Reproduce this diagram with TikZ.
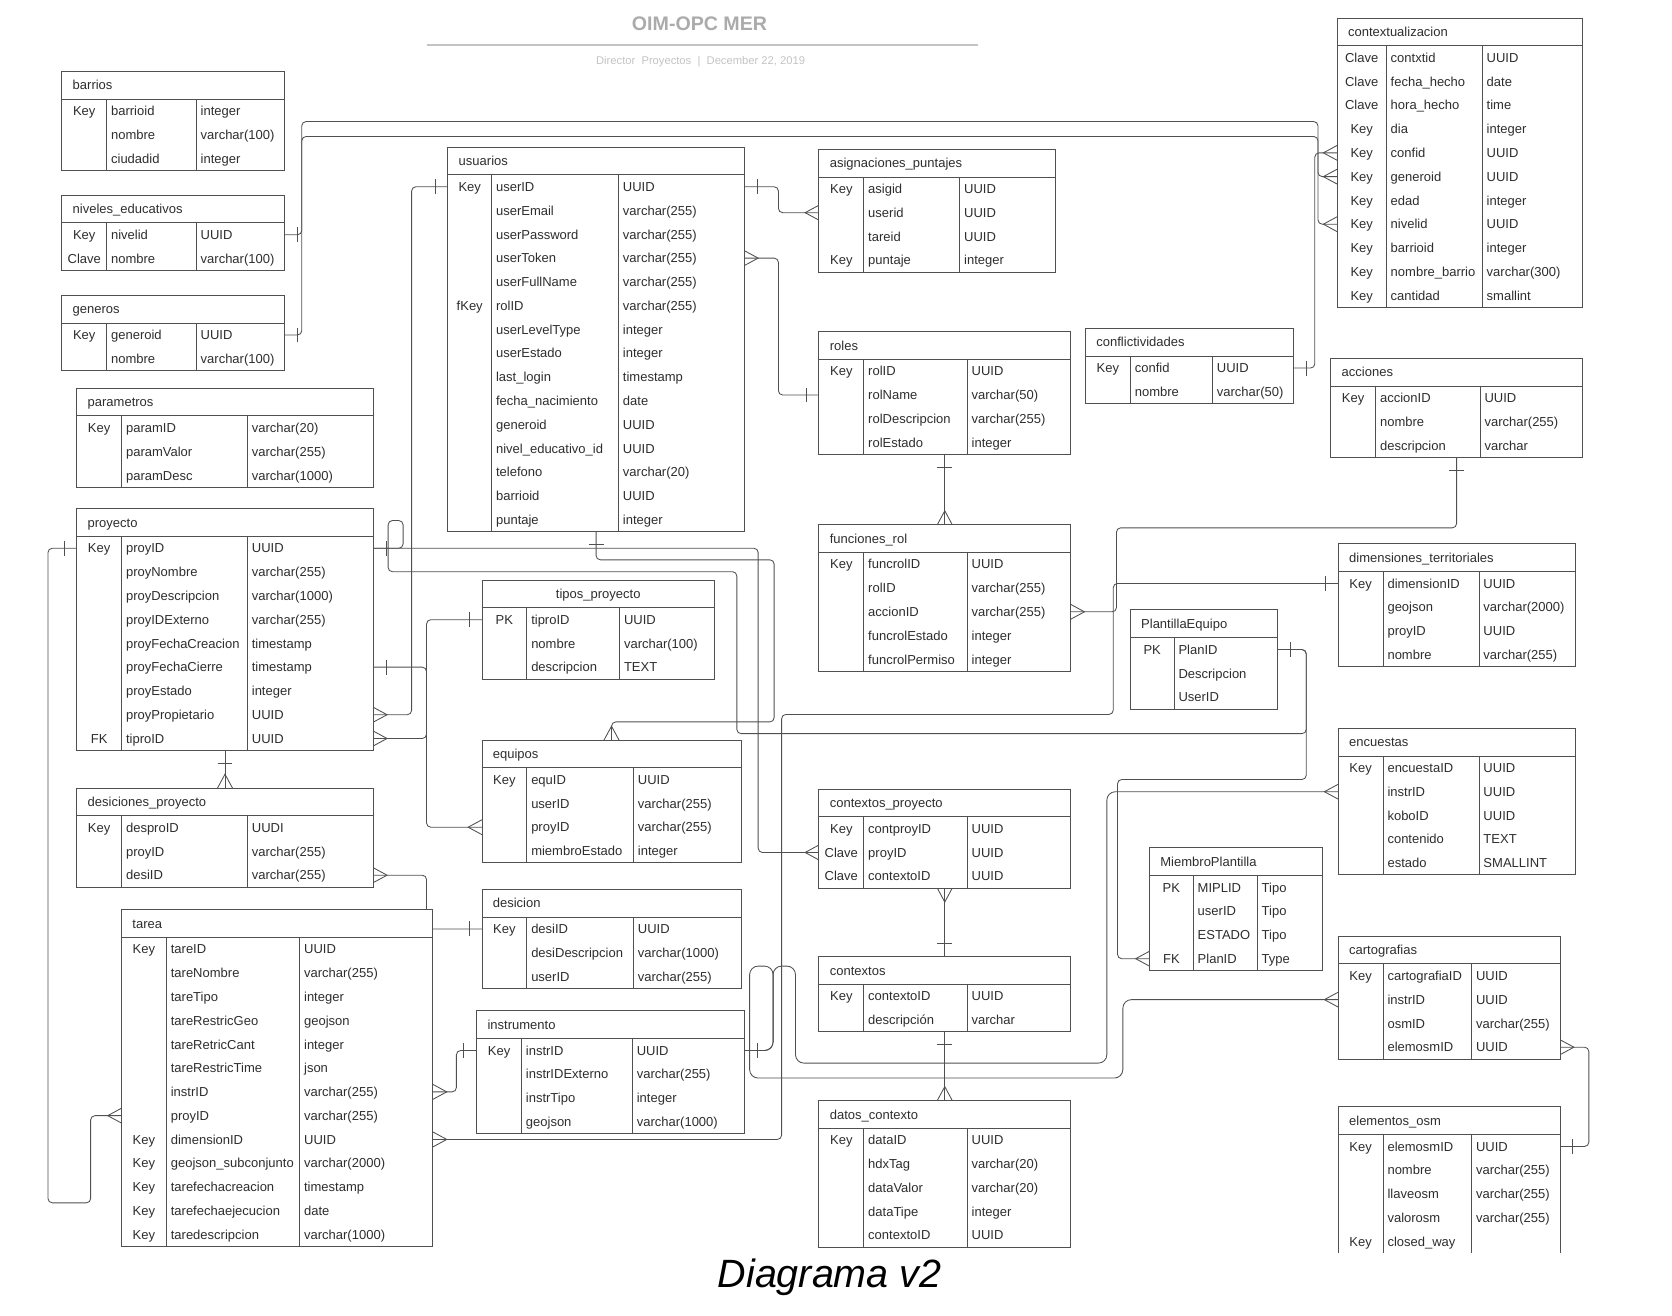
\documentclass[tikz,border=0pt]{standalone}
\usepackage{fontspec}
\setmainfont{Liberation Sans}
\usetikzlibrary{calc,decorations.markings}

\definecolor{linea}{HTML}{505050}
\definecolor{texto}{HTML}{2E2E2E}
\definecolor{gristit}{HTML}{ABABAB}
\definecolor{grissub}{HTML}{C4C4C4}

\pgfdeclarelayer{fondo}
\pgfsetlayers{fondo,main}

\newif\ifpie
\newif\iftitcentro

\tikzset{
  caja/.style={fill=white, inner sep=0pt, outer sep=0pt, anchor=north west},
  fila/.style={inner sep=0pt, outer sep=0pt, minimum height=22.3, anchor=north west},
  borde/.style={draw=linea, line width=0.9pt},
  texto/.style={font=\fontsize{12.2}{14}\selectfont, text=texto, inner sep=0pt},
  sin pie/.code={\piefalse},
  titulo centrado/.code={\titcentrotrue},
  rel/.style={draw=linea, line width=0.8pt, rounded corners=4pt},
  marca/.style={draw=linea, line width=0.8pt, sharp corners},
  uno ini/.style={postaction={decorate, decoration={markings,
      mark=at position 12pt with {\draw[marca] (0,-7pt) -- (0,7pt);}}}},
  uno fin/.style={postaction={decorate, decoration={markings,
      mark=at position -12pt with {\draw[marca] (0,-7pt) -- (0,7pt);}}}},
  muchos ini/.style={postaction={decorate, decoration={markings,
      mark=at position 13pt with {\draw[marca] (-13pt,7pt) -- (0,0) -- (-13pt,-7pt);}}}},
  muchos fin/.style={postaction={decorate, decoration={markings,
      mark=at position -13pt with {\draw[marca] (13pt,7pt) -- (0,0) -- (13pt,-7pt);}}}},
}

% #1 opciones, #2 nombre, #3 x, #4 y, #5-#7 anchos (clave, campo, tipo), #8 titulo, #9 filas
\newcommand{\tabla}[9][]{
  \pietrue\titcentrofalse\tikzset{#1}
  \foreach \fila [count=\i] in {#9} {\xdef\nfil{\i}}
  \pgfmathsetmacro{\an}{#5+#6+#7}
  \pgfmathsetmacro{\al}{26+\nfil*22.3}
  \node[caja, minimum width=\an, minimum height=\al] (#2) at (#3,#4) {};
  \ifpie
    \draw[borde] (#2.south west) rectangle (#2.north east);
  \else
    \draw[borde] (#2.south west) -- (#2.north west) -- (#2.north east) -- (#2.south east);
  \fi
  \draw[borde] ($(#2.north west)+(0,26)$) -- ($(#2.north east)+(0,26)$); %cabecera
  \draw[borde] ($(#2.north west)+(#5,26)$) -- ($(#2.south west)+(#5,0)$);
  \draw[borde] ($(#2.north west)+(#5+#6,26)$) -- ($(#2.south west)+(#5+#6,0)$);
  \iftitcentro
    \node[texto, anchor=base] (#2-t) at ($(#2.north)+(0,17.4)$) {#8};
  \else
    \node[texto, anchor=base west] (#2-t) at ($(#2.north west)+(10,17.4)$) {#8};
  \fi
  \foreach \clave/\campo/\tipo [count=\i] in {#9} {
    \node[fila, minimum width=\an] (#2-\i) at ($(#2.north west)+(0,{26+(\i-1)*22.3})$) {};
    \node[texto, anchor=base] (#2-\i-k) at ($(#2-\i.west)+(#5/2,4.4)$) {\clave};
    \node[texto, anchor=base west] (#2-\i-c) at ($(#2-\i.west)+(#5+4,4.4)$) {\campo};
    \node[texto, anchor=base west] (#2-\i-d) at ($(#2-\i.west)+(#5+#6+4,4.4)$) {\tipo};
  }
}

\begin{document}
\begin{tikzpicture}[x=1pt, y=-1pt]
  \useasboundingbox (0,0) rectangle (1568,1234);

  % cabecera
  \node[font=\bfseries\fontsize{18.4}{20}\selectfont, text=gristit] (titulo) at (656,22) {OIM-OPC MER};
  \draw[gristit!70, line width=1.5pt] (400,42) -- (917,42);
  \node[font=\fontsize{10.5}{12}\selectfont, text=grissub] (autor) at (657,58) {Director\ \ Proyectos\ \ |\ \ December 22, 2019};

  % tablas izquierda
  \tabla{barrios}{58}{67}{42}{84}{83}{barrios}{Key/barrioid/integer, /nombre/varchar(100), /ciudadid/integer}
  \tabla{niveles}{58}{183}{42}{84}{83}{niveles\_educativos}{Key/nivelid/UUID, Clave/nombre/varchar(100)}
  \tabla{generos}{58}{277}{42}{84}{83}{generos}{Key/generoid/UUID, /nombre/varchar(100)}
  \tabla{parametros}{72}{364}{42}{118}{118}{parametros}{Key/paramID/varchar(20), /paramValor/varchar(255), /paramDesc/varchar(1000)}
  \tabla{proyecto}{72}{477}{42}{118}{118}{proyecto}{Key/proyID/UUID, /proyNombre/varchar(255), /proyDescripcion/varchar(1000), /proyIDExterno/varchar(255), /proyFechaCreacion/timestamp, /proyFechaCierre/timestamp, /proyEstado/integer, /proyPropietario/UUID, FK/tiproID/UUID}
  \tabla{desproy}{72}{739}{42}{118}{118}{desiciones\_proyecto}{Key/desproID/UUDI, /proyID/varchar(255), /desiID/varchar(255)}
  \tabla{tarea}{114}{853}{42}{125}{125}{tarea}{Key/tareID/UUID, /tareNombre/varchar(255), /tareTipo/integer, /tareRestricGeo/geojson, /tareRetricCant/integer, /tareRestricTime/json, /instrID/varchar(255), /proyID/varchar(255), Key/dimensionID/UUID, Key/geojson\_subconjunto/varchar(2000), Key/tarefechacreacion/timestamp, Key/tarefechaejecucion/date, Key/taredescripcion/varchar(1000)}

  % tablas centro
  \tabla{usuarios}{420}{138}{41}{119}{118}{usuarios}{Key/userID/UUID, /userEmail/varchar(255), /userPassword/varchar(255), /userToken/varchar(255), /userFullName/varchar(255), fKey/rolID/varchar(255), /userLevelType/integer, /userEstado/integer, /last\_login/timestamp, /fecha\_nacimiento/date, /generoid/UUID, /nivel\_educativo\_id/UUID, /telefono/varchar(20), /barrioid/UUID, /puntaje/integer}
  \tabla[titulo centrado]{tipos}{452}{544}{42}{87}{89}{tipos\_proyecto}{PK/tiproID/UUID, /nombre/varchar(100), /descripcion/TEXT}
  \tabla{equipos}{452}{694}{42}{100}{101}{equipos}{Key/equID/UUID, /userID/varchar(255), /proyID/varchar(255), /miembroEstado/integer}
  \tabla{desicion}{452}{834}{42}{100}{101}{desicion}{Key/desiID/UUID, /desiDescripcion/varchar(1000), /userID/varchar(255)}
  \tabla{instrumento}{447}{948}{42}{104}{105}{instrumento}{Key/instrID/UUID, /instrIDExterno/varchar(255), /instrTipo/integer, /geojson/varchar(1000)}
  \tabla{asignaciones}{768}{140}{42}{90}{90}{asignaciones\_puntajes}{Key/asigid/UUID, /userid/UUID, /tareid/UUID, Key/puntaje/integer}
  \tabla{roles}{768}{311}{42}{97}{97}{roles}{Key/rolID/UUID, /rolName/varchar(50), /rolDescripcion/varchar(255), /rolEstado/integer}
  \tabla{funciones}{768}{492}{42}{97}{97}{funciones\_rol}{Key/funcrolID/UUID, /rolID/varchar(255), /accionID/varchar(255), /funcrolEstado/integer, /funcrolPermiso/integer}
  \tabla{contproy}{768}{740}{42}{97}{97}{contextos\_proyecto}{Key/contproyID/UUID, Clave/proyID/UUID, Clave/contextoID/UUID}
  \tabla{contextos}{768}{897}{42}{97}{97}{contextos}{Key/contextoID/UUID, /descripción/varchar}
  \tabla{datos}{768}{1032}{42}{97}{97}{datos\_contexto}{Key/dataID/UUID, /hdxTag/varchar(20), /dataValor/varchar(20), /dataTipe/integer, /contextoID/UUID}

  % tablas derecha
  \tabla{conflictividades}{1018}{308}{42}{77}{76}{conflictividades}{Key/confid/UUID, /nombre/varchar(50)}
  \tabla{plantilla}{1060}{572}{41}{97}{0}{PlantillaEquipo}{PK/PlanID/, /Descripcion/, /UserID/}
  \tabla{miembro}{1078}{795}{41}{60}{61}{MiembroPlantilla}{PK/MIPLID/Tipo, /userID/Tipo, /ESTADO/Tipo, FK/PlanID/Type}
  \tabla{contx}{1254}{17}{46}{90}{94}{contextualizacion}{Clave/contxtid/UUID, Clave/fecha\_hecho/date, Clave/hora\_hecho/time, Key/dia/integer, Key/confid/UUID, Key/generoid/UUID, Key/edad/integer, Key/nivelid/UUID, Key/barrioid/integer, Key/nombre\_barrio/varchar(300), Key/cantidad/smallint}
  \tabla{acciones}{1248}{336}{42}{98}{96}{acciones}{Key/accionID/UUID, /nombre/varchar(255), /descripcion/varchar}
  \tabla{dims}{1255}{510}{42}{90}{90}{dimensiones\_territoriales}{Key/dimensionID/UUID, /geojson/varchar(2000), /proyID/UUID, /nombre/varchar(255)}
  \tabla{encuestas}{1255}{683}{42}{90}{90}{encuestas}{Key/encuestaID/UUID, /instrID/UUID, /koboID/UUID, /contenido/TEXT, /estado/SMALLINT}
  \tabla{cartografias}{1255}{878}{42}{83}{83}{cartografias}{Key/cartografiaID/UUID, /instrID/UUID, /osmID/varchar(255), /elemosmID/UUID}
  \tabla[sin pie]{elemosm}{1255}{1038}{42}{83}{83}{elementos\_osm}{Key/elemosmID/UUID, /nombre/varchar(255), /llaveosm/varchar(255), /valorosm/varchar(255), Key/closed\_way/}

  \node[font=\itshape\fontsize{37}{40}\selectfont] (leyenda) at (778,1198) {Diagrama v2};

  % relaciones
  \begin{pgfonlayer}{fondo}
    \fill[white] (0,0) rectangle (1568,1234);
    % contextualizacion
    \draw[rel, uno ini, muchos fin] (generos-1.east) -- ++(16,0) |- (1236,114) |- (contx-6.west);
    \draw[rel, uno ini, muchos fin] (niveles-1.east) -- ++(16,0) |- (1236,128) |- (contx-8.west);
    \draw[rel, uno ini, muchos fin] (conflictividades-1.east) -- ++(20,0) |- (contx-5.west);
    % usuarios
    \draw[rel, uno ini, muchos fin] (usuarios-1.west) -- ++(-34,0) |- (proyecto-8.east);
    \draw[rel, uno ini, muchos fin] (usuarios-1.east) -- ++(32,0) |- (asignaciones-2.west);
    \draw[rel, muchos ini, uno fin] (usuarios-4.east) -- ++(32,0) |- (roles-2.west);
    \draw[rel, uno ini, muchos fin] (usuarios.south) |- (726,525) -- (726,677) -| (equipos.north);
    % roles y acciones
    \draw[rel, uno ini, muchos fin] (roles.south) -- (funciones.north);
    \draw[rel, uno ini, muchos fin] (acciones.south) |- (1047,495) |- (funciones-3.east);
    \draw[rel, uno ini, muchos fin] (dims-1.west) -| (1044,670) -- (733,670) |- (tarea-9.east);
    % proyecto
    \draw[rel, uno ini, muchos fin] (proyecto-1.east) -| (711,790) |- (contproy-2.west);
    \draw[rel, uno ini, uno fin] (proyecto-1.east) -- ++(28,0) -- ++(0,-26) -- ++(-14,0) -- ++(0,48) -| (691,688) -| (1225,650) |- (plantilla-1.east);
    \draw[rel, uno ini, muchos fin] (proyecto.south) -- (desproy.north);
    \draw[rel, uno ini, muchos fin] (proyecto-6.east) -| (400,700) |- (equipos-3.west);
    \draw[rel, muchos ini, uno fin] (proyecto-9.east) -| (400,600) |- (tipos-1.west);
    \draw[rel, muchos ini, uno fin] (tarea-8.west) -- ++(-29,0) |- (45,1128) |- (proyecto-1.west);
    \draw[rel, muchos ini, uno fin] (desproy-3.east) -| (400,850) |- (desicion-1.west);
    % plantillas
    \draw[rel, uno ini, muchos fin] (plantilla-1.east) -| (1225,731) -- (1048,731) |- (miembro-4.west);
    % contextos
    \draw[rel, uno ini, muchos fin] (contextos.north) -- (contproy.south);
    \draw[rel, uno ini, muchos fin] (contextos.south) -- (datos.north);
    % instrumento
    \draw[rel, muchos ini, uno fin] (tarea-7.east) -- ++(22,0) |- (instrumento-1.west);
    \draw[rel, rounded corners=8pt, uno ini, muchos fin] (instrumento-1.east) -- ++(27,0) |- (746,906) |- (1038,997) |- (encuestas-2.west);
    \draw[rel, rounded corners=8pt, uno ini, muchos fin] (instrumento-1.east) -- ++(27,0) |- (703,906) |- (1053,1011) |- (cartografias-2.west);
    \draw[rel, muchos ini, uno fin] (cartografias-4.east) -| (1490,1030) |- (elemosm-1.east);
  \end{pgfonlayer}
\end{tikzpicture}
\end{document}
